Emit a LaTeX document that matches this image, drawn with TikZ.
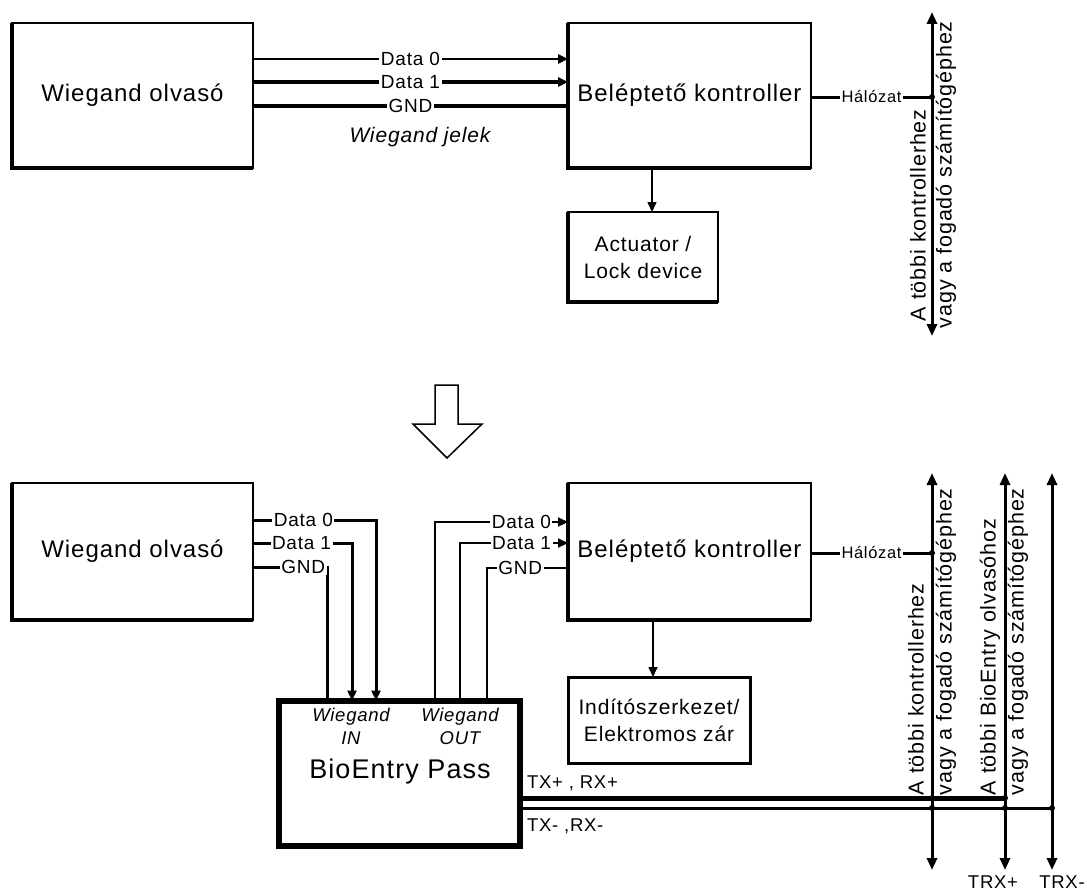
\documentclass[tikz,border=0pt]{standalone}
\usepackage{fontspec}
\setmainfont{Liberation Sans}[LetterSpace=4]
\usetikzlibrary{arrows.meta}
\begin{document}
\begin{tikzpicture}[x=1pt,y=-1pt,
  every node/.style={inner sep=0pt, outer sep=0pt},
  box/.style={draw, line width=2.5pt, align=center, font=\fontsize{24}{28}\selectfont},
  lbl/.style={fill=white, inner sep=1.5pt, font=\fontsize{19}{21}\selectfont},
  netlbl/.style={fill=white, inner sep=2pt, font=\fontsize{16.5}{18}\selectfont},
  small/.style={font=\fontsize{18.5}{20}\selectfont},
  wire/.style={line width=3pt},
  owire/.style={line width=2.2pt},
  thinwire/.style={line width=1.6pt},
  tip/.style={-{Triangle[length=10pt,width=9pt]}},
  dtip/.style={{Triangle[length=12pt,width=10pt]}-{Triangle[length=12pt,width=10pt]}},
  rot/.style={rotate=90, anchor=west, font=\fontsize{21.5}{23}\selectfont},
  ital/.style={font=\itshape\fontsize{18.5}{23}\selectfont, align=center},
]
\useasboundingbox (0,0) rectangle (1087,891);

% ---------------- top diagram ----------------
\node[box, minimum width=241, minimum height=145] (wr1) at (132.5,95.5) {Wiegand olvasó};
\node[box, minimum width=243, minimum height=145] (kc1) at (689.5,95.5) {Beléptető kontroller};
\node[box, minimum width=150, minimum height=90, font=\fontsize{21}{27}\selectfont] (act) at (643,257) {Actuator /\\Lock device};
\foreach \n in {wr1,kc1,act}
  \draw[line width=4.5pt] (\n.north west) -- (\n.south west) -- (\n.south east);

\draw[line width=2.5pt, tip] (wr1.east |- 0,59) -- node[lbl] (d0a) {Data 0} (kc1.west |- 0,59);
\draw[line width=3.5pt, tip] (wr1.east |- 0,82) -- node[lbl] (d1a) {Data 1} (kc1.west |- 0,82);
\draw[line width=3.5pt] (wr1.east |- 0,106) -- node[lbl] (gnda) {GND} (kc1.west |- 0,106);
\node[font=\itshape\fontsize{21}{24}\selectfont] (wj) at (420,137) {Wiegand jelek};

\coordinate (a1) at (652,190);
\draw[thinwire, tip] (a1 |- kc1.south) -- (a1 |- act.north);

\coordinate (n1t) at (932,12);
\coordinate (n1b) at (932,336);
\draw[wire, dtip] (n1b) -- (n1t);
\draw[wire] (kc1.east |- 0,97) -- node[netlbl] (h1) {Hálózat} (n1t |- 0,97);
\fill (n1t |- 0,97) circle (3);
\node[rot] (r1) at (918,321) {A többi kontrollerhez};
\node[rot] (r2) at (946,328) {vagy a fogadó számítógéphez};

% big hollow arrow
\draw[line width=1.5pt, fill=white, line join=miter] (435,385) -- (458,385) -- (458,424) -- (482,424) -- (447,458) -- (413,424) -- (435,424) -- cycle;

% ---------------- bottom diagram ----------------
\node[box, minimum width=241, minimum height=137] (wr2) at (132.5,551.5) {Wiegand olvasó};
\node[box, minimum width=243, minimum height=137] (kc2) at (689.5,551.5) {Beléptető kontroller};
\node[box, line width=3pt, minimum width=182, minimum height=86, font=\fontsize{21}{27}\selectfont] (ind) at (659,720) {Indítószerkezet/\\Elektromos zár};
\foreach \n in {wr2,kc2}
  \draw[line width=4.5pt] (\n.north west) -- (\n.south west) -- (\n.south east);
\node[draw, line width=6pt, minimum width=241, minimum height=145] (bio) at (399.5,773) {};
\node[font=\fontsize{27}{30}\selectfont] (bpt) at (400,772) {BioEntry Pass};
\node[ital] (win) at (351,726) {Wiegand\\IN};
\node[ital] (wout) at (460,726) {Wiegand\\OUT};

% Wiegand IN wires
\coordinate (i0) at (376,520);
\coordinate (i1) at (352,543);
\coordinate (i2) at (327,567);
\draw[wire, tip] (wr2.east |- i0) -- node[lbl, pos=0.41] (d0b) {Data 0} (i0) -- (i0 |- bio.north);
\draw[wire, tip] (wr2.east |- i1) -- node[lbl, pos=0.49] (d1b) {Data 1} (i1) -- (i1 |- bio.north);
\draw[wire] (wr2.east |- i2) -- node[lbl, pos=0.68] (gndb) {GND} (i2) -- (i2 |- bio.north);

% Wiegand OUT wires
\coordinate (o0) at (435,522);
\coordinate (o1) at (460,543);
\coordinate (o2) at (487,568);
\draw[owire, tip] (o0 |- bio.north) -- (o0) -- node[lbl, pos=0.65] (d0c) {Data 0} (kc2.west |- o0);
\draw[owire, tip] (o1 |- bio.north) -- (o1) -- node[lbl, pos=0.57] (d1c) {Data 1} (kc2.west |- o1);
\draw[owire] (o2 |- bio.north) -- (o2) -- node[lbl, pos=0.41] (gndc) {GND} (kc2.west |- o2);

\coordinate (a2) at (653,650);
\draw[thinwire, tip] (a2 |- kc2.south) -- (a2 |- ind.north);

% network / bus lines
\coordinate (v1t) at (932,473); \coordinate (v1b) at (932,870);
\coordinate (v2t) at (1005,473); \coordinate (v2b) at (1005,870);
\coordinate (v3t) at (1052,473); \coordinate (v3b) at (1052,870);
\draw[wire, dtip] (v1b) -- (v1t);
\draw[wire, dtip] (v2b) -- (v2t);
\draw[wire, dtip] (v3b) -- (v3t);
\draw[wire] (kc2.east |- 0,553) -- node[netlbl] (h2) {Hálózat} (v1t |- 0,553);
\fill (v1t |- 0,553) circle (3);

\draw[line width=5pt] (bio.east |- 0,798) -- (v2t |- 0,798);
\draw[line width=3pt] (bio.east |- 0,808) -- (v3t |- 0,808);
\foreach \p in {(v1t |- 0,798),(v1t |- 0,808),(v2t |- 0,808),(v3t |- 0,808),(v2t |- 0,798)}
  \fill \p circle (3);

\node[small, anchor=west] (tx1) at (527,783) {TX+ , RX+};
\node[small, anchor=west] (tx2) at (527,826) {TX- ,RX-};
\node[small] (trx1) at (993,882) {TRX+};
\node[small] (trx2) at (1062,882) {TRX-};

\node[rot] (r3) at (916,795) {A többi kontrollerhez};
\node[rot] (r4) at (946,795) {vagy a fogadó számítógéphez};
\node[rot] (r5) at (990,795) {A többi BioEntry olvasóhoz};
\node[rot] (r6) at (1018,795) {vagy a fogadó számítógéphez};
\end{tikzpicture}
\end{document}
